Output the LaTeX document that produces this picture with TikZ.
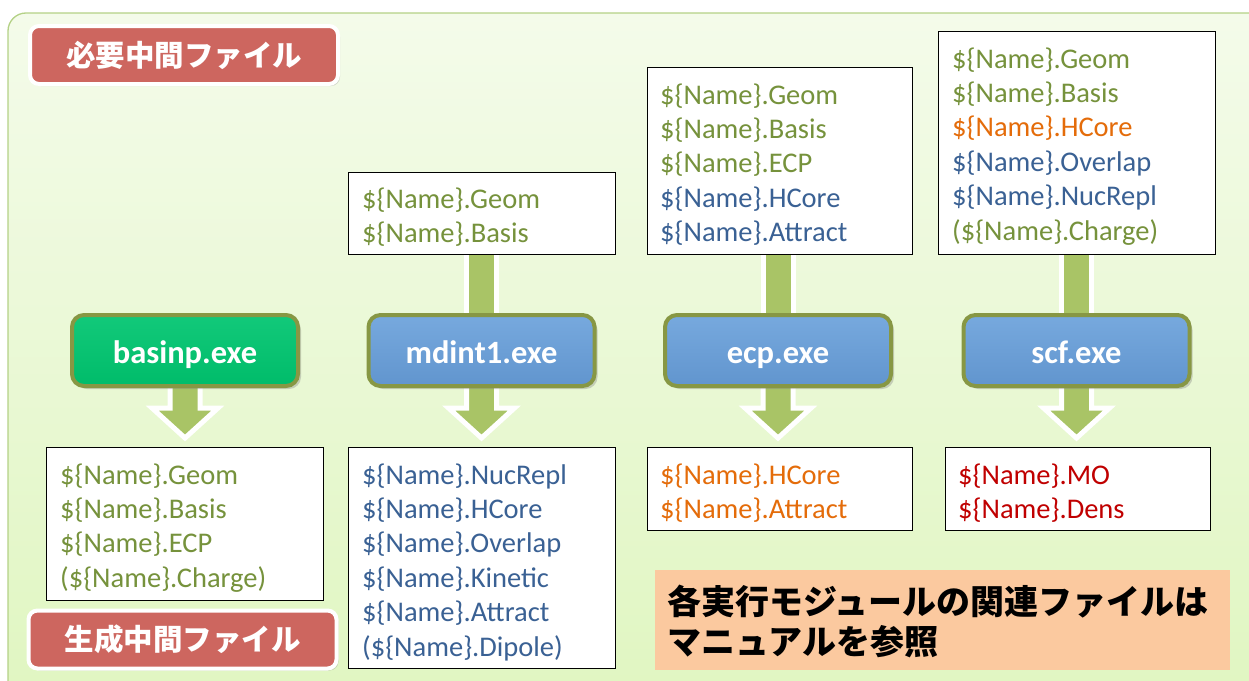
\documentclass[tikz,border=0pt]{standalone}
\usepackage{fontspec}
\setmainfont{Carlito}
\newfontfamily\cjk{Noto Sans CJK JP}
\usetikzlibrary{shadows}
\definecolor{cgreen}{HTML}{76923C}
\definecolor{cblue}{HTML}{3A6194}
\definecolor{corange}{HTML}{E46C0A}
\definecolor{cred}{HTML}{C00000}
\definecolor{arrowgreen}{HTML}{A9C466}
\definecolor{olive}{HTML}{879744}
\definecolor{labelred}{HTML}{CD665F}
\definecolor{notebg}{HTML}{FBC99F}
\definecolor{panelline}{HTML}{B4D186}
\definecolor{blueTop}{HTML}{77A9DE}
\definecolor{blueBot}{HTML}{6195CE}
\definecolor{greenTop}{HTML}{12C97A}
\definecolor{greenBot}{HTML}{00BC6A}
\definecolor{panelTop}{RGB}{244,251,234}
\definecolor{panelBot}{RGB}{224,246,193}
\tikzset{
  filebox/.style={draw=black, line width=1.1pt, fill=white, anchor=north west, inner sep=0pt},
  fl/.style={anchor=base west, inner sep=0pt, font=\fontsize{28.5}{34}\selectfont},
  module/.style={draw=olive, line width=4pt, rounded corners=12pt, minimum width=226pt, minimum height=71pt,
     text=white, font=\bfseries\fontsize{32.5}{32.5}\selectfont, text height=25pt, text depth=0pt,
     drop shadow={shadow xshift=3pt, shadow yshift=-3pt, opacity=0.35}},
  bluemod/.style={module, top color=blueTop, bottom color=blueBot},
  greenmod/.style={module, top color=greenTop, bottom color=greenBot},
  lbl/.style={draw=white, line width=4pt, fill=labelred, rounded corners=9pt, minimum width=308pt, minimum height=58pt,
     text=white, font=\cjk\bfseries\fontsize{29.5}{29.5}\selectfont, drop shadow={shadow xshift=2pt, shadow yshift=-2pt, opacity=0.3}},
  blockarrow/.style={fill=arrowgreen, draw=white, line width=5pt, line join=miter},
  notetext/.style={anchor=west, inner sep=0pt, font=\cjk\bfseries\fontsize{34}{34}\selectfont},
}
\begin{document}
\begin{tikzpicture}[x=1pt,y=-1pt]
\useasboundingbox (0,0) rectangle (1249,680);
\fill[white] (0,0) rectangle (1249,680);
% panel
\draw[rounded corners=18pt, draw=panelline, line width=1.3pt, top color=panelTop, bottom color=panelBot] (8,13) rectangle (1270,700);

% input shafts (behind boxes and modules)
\foreach \cx in {481.5, 778, 1076.5}{
  \draw[blockarrow] (\cx-15,252) -- (\cx+15,252) -- (\cx+15,330) -- (\cx-15,330) -- cycle;
}
% output arrows
\foreach \cx in {185, 481.5, 778, 1076.5}{
  \draw[blockarrow] (\cx-15,370) -- (\cx+15,370) -- (\cx+15,408) -- (\cx+33,408) -- (\cx,438) -- (\cx-33,408) -- (\cx-15,408) -- cycle;
}

% modules
\node[greenmod] (basinp) at (185,350.5) {basinp.exe};
\node[bluemod] (mdint) at (481.5,350.5) {mdint1.exe};
\node[bluemod] (ecp) at (778,350.5) {ecp.exe};
\node[bluemod] (scf) at (1076.5,350.5) {scf.exe};

% input boxes
\node[filebox, minimum width=267pt, minimum height=82pt] (in2) at (348,172) {};
\node[fl, text=cgreen] (in2a) at (362,208) {\$\{Name\}.Geom};
\node[fl, text=cgreen] (in2b) at (362,242.5) {\$\{Name\}.Basis};

\node[filebox, minimum width=265pt, minimum height=187pt] (in3) at (647,67) {};
\node[fl, text=cgreen] (in3a) at (660,104) {\$\{Name\}.Geom};
\node[fl, text=cgreen] (in3b) at (660,138.4) {\$\{Name\}.Basis};
\node[fl, text=cgreen] (in3c) at (660,172.8) {\$\{Name\}.ECP};
\node[fl, text=cblue] (in3d) at (660,207.2) {\$\{Name\}.HCore};
\node[fl, text=cblue] (in3e) at (660,241.6) {\$\{Name\}.Attract};

\node[filebox, minimum width=277pt, minimum height=223pt] (in4) at (938,31) {};
\node[fl, text=cgreen] (in4a) at (952,68) {\$\{Name\}.Geom};
\node[fl, text=cgreen] (in4b) at (952,102.4) {\$\{Name\}.Basis};
\node[fl, text=corange] (in4c) at (952,136.8) {\$\{Name\}.HCore};
\node[fl, text=cblue] (in4d) at (952,171.2) {\$\{Name\}.Overlap};
\node[fl, text=cblue] (in4e) at (952,205.6) {\$\{Name\}.NucRepl};
\node[fl, text=cgreen] (in4f) at (952,240) {(\$\{Name\}.Charge)};

% output boxes
\node[filebox, minimum width=277pt, minimum height=153pt] (out1) at (46,447) {};
\node[fl, text=cgreen] (out1a) at (60,484) {\$\{Name\}.Geom};
\node[fl, text=cgreen] (out1b) at (60,518.4) {\$\{Name\}.Basis};
\node[fl, text=cgreen] (out1c) at (60,552.8) {\$\{Name\}.ECP};
\node[fl, text=cgreen] (out1d) at (60,587.2) {(\$\{Name\}.Charge)};

\node[filebox, minimum width=267pt, minimum height=221pt] (out2) at (348,447) {};
\node[fl, text=cblue] (out2a) at (362,484) {\$\{Name\}.NucRepl};
\node[fl, text=cblue] (out2b) at (362,518.4) {\$\{Name\}.HCore};
\node[fl, text=cblue] (out2c) at (362,552.8) {\$\{Name\}.Overlap};
\node[fl, text=cblue] (out2d) at (362,587.2) {\$\{Name\}.Kinetic};
\node[fl, text=cblue] (out2e) at (362,621.6) {\$\{Name\}.Attract};
\node[fl, text=cblue] (out2f) at (362,656) {(\$\{Name\}.Dipole)};

\node[filebox, minimum width=265pt, minimum height=83pt] (out3) at (647,447) {};
\node[fl, text=corange] (out3a) at (660,484) {\$\{Name\}.HCore};
\node[fl, text=corange] (out3b) at (660,518.4) {\$\{Name\}.Attract};

\node[filebox, minimum width=265pt, minimum height=83pt] (out4) at (945,447) {};
\node[fl, text=cred] (out4a) at (958,484) {\$\{Name\}.MO};
\node[fl, text=cred] (out4b) at (958,518.4) {\$\{Name\}.Dens};

% labels
\node[lbl] (need) at (184,55) {必要中間ファイル};
\node[lbl] (gen) at (182.5,639.5) {生成中間ファイル};

% note
\node[fill=notebg, anchor=north west, minimum width=575pt, minimum height=100pt, inner sep=0pt] (note) at (655,570) {};
\node[notetext] (note1) at (667,602) {各実行モジュールの関連ファイルは};
\node[notetext] (note2) at (667,642) {マニュアルを参照};
\end{tikzpicture}
\end{document}
